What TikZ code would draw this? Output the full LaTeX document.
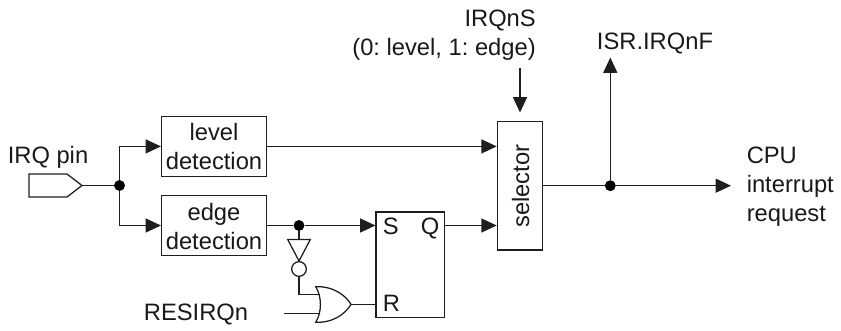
\documentclass[tikz,border=0pt]{standalone}
\usepackage{fontspec}
\setmainfont{Liberation Sans}
\frenchspacing
\usetikzlibrary{arrows.meta,calc}
\tikzset{
  ln/.style={line width=0.95pt,draw={rgb,255:red,30;green,30;blue,30}},
  arr/.style={ln,-{Triangle[length=11.5pt,width=10.5pt]}},
  blockbox/.style={ln,fill=white,inner sep=0pt,align=center},
  lab/.style={font=\fontsize{17.8pt}{20pt}\selectfont,inner sep=0pt,text=black!90},
  junct/.style={circle,fill=black,inner sep=0pt,minimum size=8.2pt},
  bub/.style={circle,ln,fill=white,inner sep=0pt,minimum size=11pt},
}
\begin{document}
\begin{tikzpicture}[x=0.75pt,y=-0.75pt]
\useasboundingbox (0,0) rectangle (841,331);
% blocks
\node[blockbox,minimum width=78.6pt,minimum height=45.3pt] (level) at (214,146.4) {};
\node[blockbox,minimum width=78.6pt,minimum height=45.3pt] (edge) at (214,225.5) {};
\node[lab,anchor=base] (t1) at (214,141) {level};
\node[lab,anchor=base] (t1b) at (214,169.5) {detection};
\node[lab,anchor=base] (t2) at (214,220) {edge};
\node[lab,anchor=base] (t2b) at (214,249.5) {detection};
\node[blockbox,minimum width=51.2pt,minimum height=79pt] (sr) at (410.2,264.7) {};
\node[lab,anchor=base west] (ts) at (382.5,234.3) {S};
\node[lab,anchor=base east] (tq) at (439.5,234.3) {Q};
\node[lab,anchor=base west] (tr) at (382.5,311.7) {R};
\node[blockbox,minimum width=34pt,minimum height=96.4pt] (sel) at (520,185.6) {};
\node[lab,rotate=90,anchor=base] (tsel) at (529,186) {selector};
% pin
\coordinate (pinw) at (29,185.5);
\coordinate (pintip) at (82,185.5);
\draw[ln] (29,174) -- (67,174) -- (pintip) -- (67,197) -- (29,197) -- cycle;
\node[lab,anchor=base] (irq) at (48,164) {IRQ pin};
% junctions and wires
\node[junct] (j1) at (119.5,185.5) {};
\draw[ln] (pintip) -- (j1);
\draw[arr] (j1) |- (level.west);
\draw[arr] (j1) |- (edge.west);
\draw[arr] (level.east) -- (level.east -| sel.west);
\node[junct] (j2) at (299,225.5) {};
\draw[ln] (edge.east) -- (j2);
\draw[arr] (j2) -- (j2 -| sr.west);
\coordinate (qo) at (sr.east |- j2);
\draw[arr] (qo) -- (qo -| sel.west);
% inverter
\coordinate (invtop) at (299,239.5);
\coordinate (invtip) at (299,261);
\draw[ln] (j2) -- (invtop);
\draw[ln] (287.7,239.5) -- (310.3,239.5) -- (invtip) -- cycle;
\node[bub] (bub) at (299,269) {};
% OR gate
\coordinate (orin1) at (319.5,294.3);
\coordinate (orin2) at (319.5,313.7);
\coordinate (orout) at (351,304.3);
\draw[ln] (315.7,286.7) .. controls (322,297) and (322,312) .. (315.7,322.3)
  .. controls (334,323) and (346,313) .. (orout)
  .. controls (346,296) and (334,286) .. cycle;
\draw[ln] (bub.south) |- (orin1);
\coordinate (resin) at (284,313.7);
\draw[ln] (resin) -- (orin2);
\draw[ln] (orout) -- (orout -| sr.west);
\node[lab,anchor=base] (res) at (196,320) {RESIRQn};
% selector output
\coordinate (selo) at (sel.east |- 0,185.7);
\node[junct] (j3) at (610.3,185.7) {};
\draw[ln] (selo) -- (j3);
\coordinate (cpu) at (731,185.7);
\draw[arr] (j3) -- (cpu);
\coordinate (isr) at (610.3,57.5);
\draw[arr] (j3) -- (isr);
\coordinate (sin) at (520,68);
\coordinate (sout) at (520,112.5);
\draw[arr] (sin) -- (sout);
\node[lab,anchor=base] (tisrf) at (655,50) {ISR.IRQnF};
\node[lab,anchor=base east] (ts1) at (536,26.7) {IRQnS};
\node[lab,anchor=base east] (ts2) at (536,56) {(0: level, 1: edge)};
\node[lab,anchor=base west] (c1) at (746.5,164) {CPU};
\node[lab,anchor=base west] (c2) at (746.5,193) {interrupt};
\node[lab,anchor=base west] (c3) at (746.5,222) {request};
\end{tikzpicture}
\end{document}
